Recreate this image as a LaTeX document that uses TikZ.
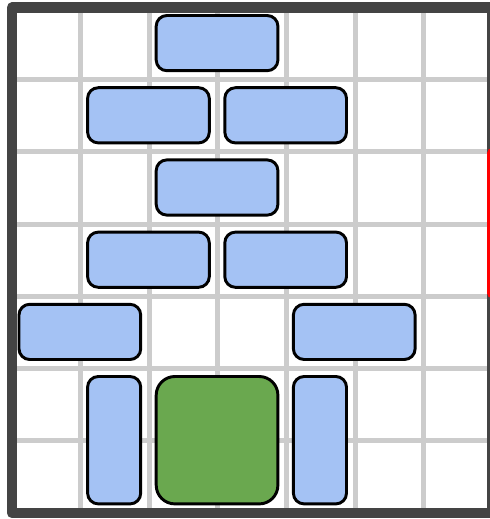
\documentclass[tikz,border=0pt]{standalone}
\usetikzlibrary{calc}
\definecolor{blockblue}{HTML}{A4C2F4}
\definecolor{blockgreen}{HTML}{6AA84F}
\definecolor{gridgray}{HTML}{CCCCCC}
\definecolor{framegray}{HTML}{444444}
\tikzset{
  gridline/.style={draw=gridgray, line width=3.75pt},
  frame/.style={draw=framegray, line width=7.9pt, line join=round},
  exitline/.style={draw=red, line width=7.5pt, line cap=round},
  bluebox/.style={draw=black, fill=blockblue, line width=2.2pt, rounded corners=8pt},
  greenbox/.style={draw=black, fill=blockgreen, line width=2.2pt, rounded corners=14pt},
}
\newcommand{\cw}{68.6}
\newcommand{\ch}{72.2}
\newcommand{\blockat}[5]{%
  \draw[#5] ({12+#1*\cw+7},{7.5+#2*\ch+8}) rectangle ({12+(#1+#3)*\cw-8.5},{7.5+(#2+#4)*\ch-9});}
\begin{document}
\begin{tikzpicture}[x=0.75pt,y=-0.75pt]
  \fill[white] (0,0) rectangle (490,519);
  \useasboundingbox (0,0) rectangle (490,519);
  % grid
  \foreach \i in {1,...,6} {
    \draw[gridline] ({12+\i*\cw},7.5) -- ({12+\i*\cw},513);
    \draw[gridline] (12,{7.5+\i*\ch}) -- ({12+7*\cw},{7.5+\i*\ch});
  }
  % frame
  \draw[frame] (12,7.5) rectangle ({12+7*\cw},513);
  % exit
  \coordinate (exitA) at ({12+7*\cw},{7.5+2*\ch+1});
  \coordinate (exitB) at ({12+7*\cw},{7.5+4*\ch-3});
  \draw[exitline] (exitA) -- (exitB);
  % blocks
  \blockat{2}{0}{2}{1}{bluebox}
  \blockat{1}{1}{2}{1}{bluebox}
  \blockat{3}{1}{2}{1}{bluebox}
  \blockat{2}{2}{2}{1}{bluebox}
  \blockat{1}{3}{2}{1}{bluebox}
  \blockat{3}{3}{2}{1}{bluebox}
  \blockat{0}{4}{2}{1}{bluebox}
  \blockat{4}{4}{2}{1}{bluebox}
  \blockat{1}{5}{1}{2}{bluebox}
  \blockat{4}{5}{1}{2}{bluebox}
  \blockat{2}{5}{2}{2}{greenbox}
\end{tikzpicture}
\end{document}
